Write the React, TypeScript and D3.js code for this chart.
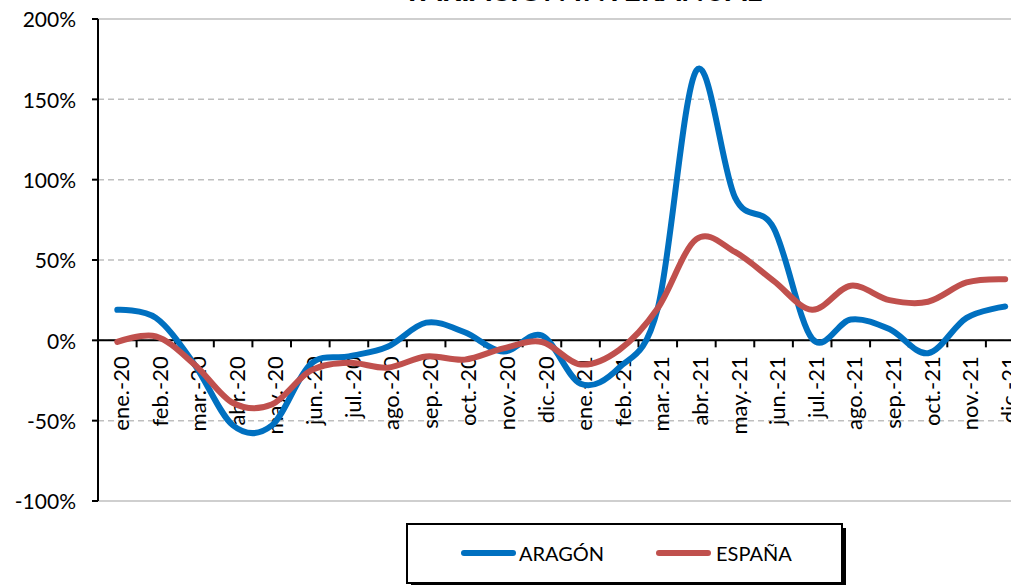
import React from "react";
import * as d3 from "d3";

const categories = [
  "ene.-20", "feb.-20", "mar.-20", "abr.-20", "may.-20", "jun.-20",
  "jul.-20", "ago.-20", "sep.-20", "oct.-20", "nov.-20", "dic.-20",
  "ene.-21", "feb.-21", "mar.-21", "abr.-21", "may.-21", "jun.-21",
  "jul.-21", "ago.-21", "sep.-21", "oct.-21", "nov.-21", "dic.-21",
];
const aragon = [19, 14, -15, -53, -53, -15, -10, -4, 11, 5, -7, 3, -27, -17, 20, 168, 89, 70, 1, 13, 7, -8, 14, 21];
const espana = [-1, 2.5, -15, -39, -40, -19, -14, -17, -10, -12, -5, -1, -15, -6, 20, 63, 55, 37, 19, 34, 25, 24, 36, 38];
const yTicks = [-100, -50, 0, 50, 100, 150, 200];
const seriesNames = ["ARAGÓN", "ESPAÑA"];
const colors = ["#0070C0", "#C0504D"];
const title = "VARIACIÓN INTERANUAL";

const W = 1011, H = 585;
const left = 98, right = 1024.5, top = 19, bottom = 501;
const FONT = "Lato, 'Open Sans', sans-serif";

export default function App() {
  const x = d3.scaleBand<string>().domain(categories).range([left, right]).padding(0);
  const y = d3.scaleLinear().domain([-100, 200]).range([bottom, top]);
  const bw = x.bandwidth();
  const cx = (i: number) => (x(categories[i]) as number) + bw / 2;
  const line = d3
    .line<number>()
    .x((_, i) => cx(i))
    .y((d) => y(d))
    .curve(d3.curveCardinal.tension(0));
  const series = [aragon, espana];
  const y0 = y(0);

  return (
    <svg width={W} height={H} style={{ position: "absolute", left: 0, top: 0, background: "#fff" }}>
      <text x={582} y={1} textAnchor="middle" fontFamily={FONT} fontWeight="bold" fontSize={30} fill="#000">
        {title}
      </text>
      {/* grid */}
      {yTicks.map((t) => (
        <line
          key={t}
          x1={left}
          x2={W}
          y1={y(t)}
          y2={y(t)}
          stroke="#BFBFBF"
          strokeWidth={1.5}
          strokeDasharray={t === 200 || t === -100 ? undefined : "6,4"}
        />
      ))}
      {/* y axis */}
      <line x1={left} x2={left} y1={top} y2={bottom} stroke="#000" strokeWidth={2} />
      {yTicks.map((t) => (
        <g key={"yt" + t}>
          <line x1={left - 6} x2={left} y1={y(t)} y2={y(t)} stroke="#000" strokeWidth={2} />
          <text x={76} y={y(t) + 1} dy="0.35em" textAnchor="end" fontFamily={FONT} fontSize={21} fill="#000">
            {t + "%"}
          </text>
        </g>
      ))}
      {/* x axis at 0 */}
      <line x1={left} x2={W} y1={y0} y2={y0} stroke="#000" strokeWidth={2} />
      {categories.map((c, i) =>
        i === 0 ? null : (
          <line key={"xt" + c} x1={x(c) as number} x2={x(c) as number} y1={y0} y2={y0 + 7} stroke="#000" strokeWidth={2} />
        )
      )}
      {categories.map((c, i) => (
        <text
          key={"xl" + c}
          transform={`translate(${cx(i) + 4},${y0 + 16}) rotate(-90)`}
          dy="0.35em"
          textAnchor="end"
          fontFamily={FONT}
          fontSize={22}
          fill="#000"
        >
          {c}
        </text>
      ))}
      {/* series */}
      {series.map((s, k) => (
        <path key={"s" + k} d={line(s) as string} fill="none" stroke={colors[k]} strokeWidth={6} strokeLinecap="round" strokeLinejoin="round" />
      ))}
      {/* legend */}
      <rect x={411} y={528} width={435} height={60} fill="#000" />
      <rect x={407} y={524} width={435} height={59} fill="#fff" stroke="#000" strokeWidth={2} />
      {seriesNames.map((n, k) => (
        <g key={"lg" + n}>
          <line
            x1={464 + k * 195}
            x2={513 + k * 195}
            y1={553}
            y2={553}
            stroke={colors[k]}
            strokeWidth={6}
            strokeLinecap="round"
          />
          <text x={519 + k * 197} y={554} dy="0.35em" fontFamily={FONT} fontSize={20} fill="#000">
            {n}
          </text>
        </g>
      ))}
    </svg>
  );
}
